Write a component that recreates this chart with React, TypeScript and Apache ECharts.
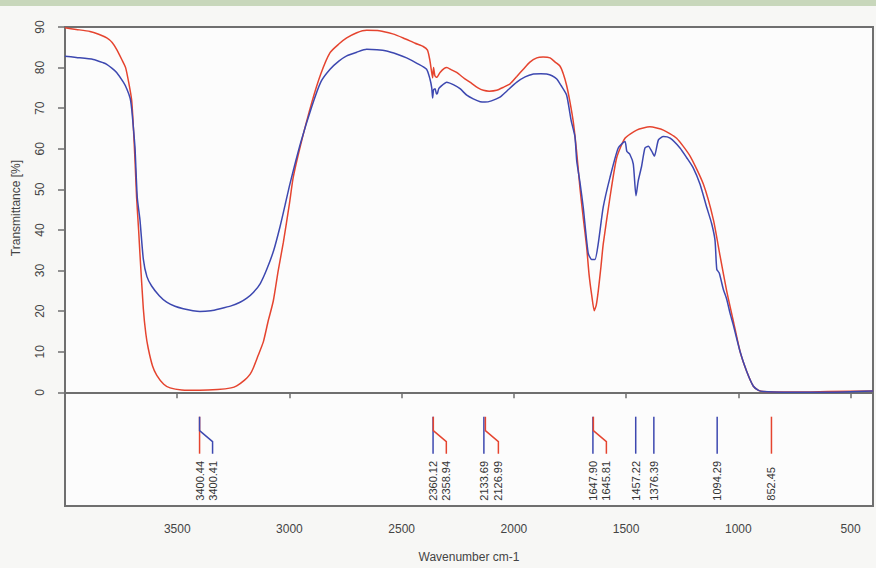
import React, { useEffect, useRef } from "react";
import * as echarts from "echarts";

// ---- Data ----
const xTickValues = [500, 1000, 1500, 2000, 2500, 3000, 3500];
const yTickValues = [0, 10, 20, 30, 40, 50, 60, 70, 80, 90];

const redSpectrum: [number, number][] = [
  [4000, 89.8], [3950, 89.4], [3889, 88.9], [3850, 88.2], [3814, 87.3], [3790, 86.2],
  [3770, 84.5], [3747, 82.0], [3730, 80.0], [3715, 76.0], [3703, 72.0], [3696, 66.0],
  [3688, 57.0], [3681, 48.0], [3672, 40.0], [3666, 34.0], [3651, 20.6], [3640, 14.5],
  [3629, 10.8], [3610, 6.5], [3591, 4.2], [3560, 2.0], [3532, 1.1], [3480, 0.6],
  [3400, 0.5], [3320, 0.7], [3260, 1.1], [3235, 1.6], [3200, 3.0], [3175, 4.5],
  [3161, 6.0], [3140, 9.0], [3116, 12.5], [3095, 17.5], [3072, 22.5], [3050, 30.0],
  [3027, 37.0], [3000, 46.5], [2983, 53.0], [2950, 61.0], [2900, 71.5], [2860, 78.5],
  [2819, 83.7], [2780, 85.8], [2745, 87.3], [2700, 88.6], [2656, 89.2], [2600, 89.1],
  [2540, 88.3], [2493, 87.3], [2440, 86.0], [2404, 85.2], [2385, 84.3], [2375, 82.0],
  [2368, 79.5], [2362, 77.5], [2358, 80.0], [2352, 78.0], [2344, 77.6], [2329, 78.8],
  [2310, 79.8], [2299, 80.0], [2280, 79.5], [2255, 78.8], [2220, 77.3], [2196, 76.4],
  [2160, 75.0], [2136, 74.4], [2110, 74.2], [2077, 74.4], [2045, 75.2], [2017, 76.0],
  [1987, 77.8], [1958, 79.6], [1930, 81.3], [1898, 82.4], [1870, 82.6], [1839, 82.4],
  [1815, 81.3], [1795, 80.4], [1780, 78.5], [1765, 75.6], [1750, 71.5], [1735, 66.5],
  [1720, 59.0], [1705, 50.0], [1691, 43.0], [1676, 35.9], [1665, 29.0], [1653, 23.8],
  [1642, 20.1], [1633, 21.5], [1624, 25.0], [1612, 31.0], [1602, 36.5], [1572, 48.0],
  [1542, 57.8], [1505, 62.6], [1453, 64.6], [1394, 65.4], [1334, 64.6], [1275, 62.6],
  [1215, 58.2], [1156, 51.3], [1111, 42.5], [1081, 33.5], [1052, 25.0], [1022, 17.5],
  [992, 10.0], [963, 5.2], [933, 1.5], [910, 0.5], [889, 0.2], [800, 0.1],
  [700, 0.1], [600, 0.2], [400, 0.3],
];

const blueSpectrum: [number, number][] = [
  [4000, 82.8], [3950, 82.5], [3874, 82.0], [3830, 81.2], [3814, 80.8], [3790, 79.8],
  [3770, 78.8], [3740, 76.4], [3725, 74.8], [3710, 72.5], [3703, 69.9], [3695, 65.0],
  [3688, 60.2], [3678, 48.0], [3666, 42.5], [3651, 32.8], [3635, 28.5], [3614, 26.2],
  [3580, 23.8], [3547, 22.2], [3510, 21.2], [3473, 20.6], [3430, 20.1], [3399, 19.9],
  [3350, 20.1], [3309, 20.6], [3260, 21.3], [3220, 22.2], [3190, 23.2], [3161, 24.6],
  [3130, 26.8], [3101, 30.3], [3070, 35.0], [3042, 40.8], [3020, 46.0], [2998, 51.3],
  [2950, 61.5], [2900, 70.5], [2860, 76.5], [2819, 79.6], [2780, 81.6], [2745, 82.9],
  [2700, 83.8], [2656, 84.5], [2610, 84.4], [2567, 84.1], [2520, 83.3], [2478, 82.4],
  [2430, 81.0], [2389, 79.6], [2374, 77.2], [2366, 75.0], [2362, 72.5], [2358, 74.5],
  [2351, 74.8], [2345, 73.5], [2341, 73.6], [2335, 74.8], [2329, 75.2], [2299, 76.4],
  [2270, 75.8], [2240, 74.8], [2210, 73.2], [2181, 72.3], [2150, 71.6], [2129, 71.5],
  [2100, 71.8], [2062, 72.7], [2030, 74.3], [1987, 76.4], [1950, 77.7], [1913, 78.4],
  [1880, 78.5], [1854, 78.4], [1830, 78.0], [1809, 77.2], [1790, 75.6], [1765, 73.2],
  [1745, 67.0], [1728, 63.0], [1720, 57.0], [1705, 51.5], [1691, 45.6], [1669, 34.3],
  [1653, 32.7], [1639, 32.7], [1624, 36.7], [1602, 45.6], [1572, 52.9], [1535, 60.2],
  [1505, 61.8], [1497, 59.4], [1483, 58.6], [1468, 56.2], [1456, 48.4], [1446, 52.1],
  [1431, 55.7], [1416, 60.2], [1401, 60.6], [1386, 59.4], [1374, 58.2], [1356, 62.2],
  [1334, 63.0], [1304, 62.6], [1260, 60.2], [1230, 57.8], [1201, 55.3], [1171, 51.3],
  [1141, 45.6], [1119, 41.6], [1104, 37.5], [1096, 30.3], [1085, 29.4], [1067, 25.4],
  [1052, 23.0], [1037, 19.5], [1022, 16.5], [992, 10.0], [963, 5.2], [933, 1.5],
  [910, 0.5], [889, 0.2], [800, 0.0], [700, 0.0], [600, 0.0], [400, 0.3],
];

// Peak annotations
const peakWavenumbers = [3400.44, 3400.41, 2360.12, 2358.94, 2133.69, 2126.99, 1647.9, 1645.81, 1457.22, 1376.39, 1094.29, 852.45];
const peakLabels = ["3400.44", "3400.41", "2360.12", "2358.94", "2133.69", "2126.99", "1647.90", "1645.81", "1457.22", "1376.39", "1094.29", "852.45"];
const peakSeries = ["red", "blue", "blue", "red", "blue", "red", "blue", "red", "blue", "blue", "blue", "red"];
const peakShifted = [0, 1, 0, 1, 0, 1, 0, 1, 0, 0, 0, 0];
const peakMarkerTop = -6;

const RED = "#e5442f";
const BLUE = "#3d48b0";

export default function App() {
  const ref = useRef<HTMLDivElement>(null);

  useEffect(() => {
    document.body.style.margin = "0";
    const chart = echarts.init(ref.current!, null, { renderer: "svg" });
    const font = "Liberation Sans, Arial, sans-serif";
    const peakData = peakWavenumbers.map((w, i) => [w, peakShifted[i], peakSeries[i] === "red" ? 0 : 1]);

    chart.setOption({
      animation: false,
      backgroundColor: "#f7f7f5",
      graphic: [
        { type: "rect", shape: { x: 0, y: 0, width: 876, height: 6 }, style: { fill: "#c8d7bb" }, silent: true },
        {
          type: "text",
          x: 16,
          y: 208,
          rotation: Math.PI / 2,
          style: { text: "Transmittance [%]", fill: "#444", font: `12px ${font}`, align: "center", verticalAlign: "middle" },
        },
      ],
      grid: {
        left: 65,
        right: 3,
        top: 27,
        bottom: 55,
        show: true,
        backgroundColor: "#fcfcfc",
        borderColor: "#6f6f6f",
        borderWidth: 2,
      },
      xAxis: {
        type: "value",
        min: 400,
        max: 4000,
        inverse: true,
        name: "Wavenumber cm-1",
        nameLocation: "middle",
        nameGap: 45,
        nameTextStyle: { color: "#444", fontSize: 12, fontFamily: font },
        axisLine: { show: true, lineStyle: { color: "#6f6f6f", width: 2 } },
        axisTick: { show: true, length: 6, customValues: xTickValues, lineStyle: { color: "#6f6f6f", width: 1.5 } },
        axisLabel: {
          customValues: xTickValues,
          formatter: (v: number) => String(v),
          color: "#444",
          fontSize: 12,
          fontFamily: font,
          margin: 17,
        },
        splitLine: { show: false },
      },
      yAxis: {
        type: "value",
        min: -28,
        max: 90,
        axisLine: { show: true, lineStyle: { color: "#6f6f6f", width: 2 } },
        axisTick: { show: true, length: 7, customValues: yTickValues, lineStyle: { color: "#6f6f6f", width: 1.5 } },
        axisLabel: {
          customValues: yTickValues,
          formatter: (v: number) => String(v),
          rotate: 90,
          color: "#444",
          fontSize: 12,
          fontFamily: font,
          margin: 19,
        },
        splitLine: { show: false },
      },
      series: [
        {
          type: "line",
          data: redSpectrum,
          showSymbol: false,
          smooth: 0.2,
          lineStyle: { color: RED, width: 1.5 },
          z: 2,
        },
        {
          type: "line",
          data: blueSpectrum,
          showSymbol: false,
          smooth: 0.2,
          lineStyle: { color: BLUE, width: 1.5 },
          z: 3,
        },
        {
          type: "custom",
          data: peakData,
          z: 4,
          renderItem: (params: any, api: any) => {
            const wn = api.value(0);
            const shifted = api.value(1);
            const colorIdx = api.value(2);
            const p = api.coord([wn, peakMarkerTop]);
            const x0 = p[0];
            const y0 = p[1];
            const dx = shifted ? 13 : 0;
            const points = [
              [x0, y0],
              [x0, y0 + 14],
              [x0 + dx, y0 + 25],
              [x0 + dx, y0 + 37],
            ];
            return {
              type: "group",
              children: [
                {
                  type: "polyline",
                  shape: { points },
                  style: { stroke: colorIdx === 0 ? RED : BLUE, lineWidth: 1.5, fill: null },
                },
                {
                  type: "text",
                  x: x0 + dx,
                  y: y0 + 84,
                  rotation: Math.PI / 2,
                  style: {
                    text: peakLabels[params.dataIndex],
                    fill: "#333",
                    font: `11px ${font}`,
                    align: "left",
                    verticalAlign: "middle",
                  },
                },
              ],
            };
          },
        },
      ],
    });

    return () => chart.dispose();
  }, []);

  return <div ref={ref} style={{ width: 876, height: 568 }} />;
}
